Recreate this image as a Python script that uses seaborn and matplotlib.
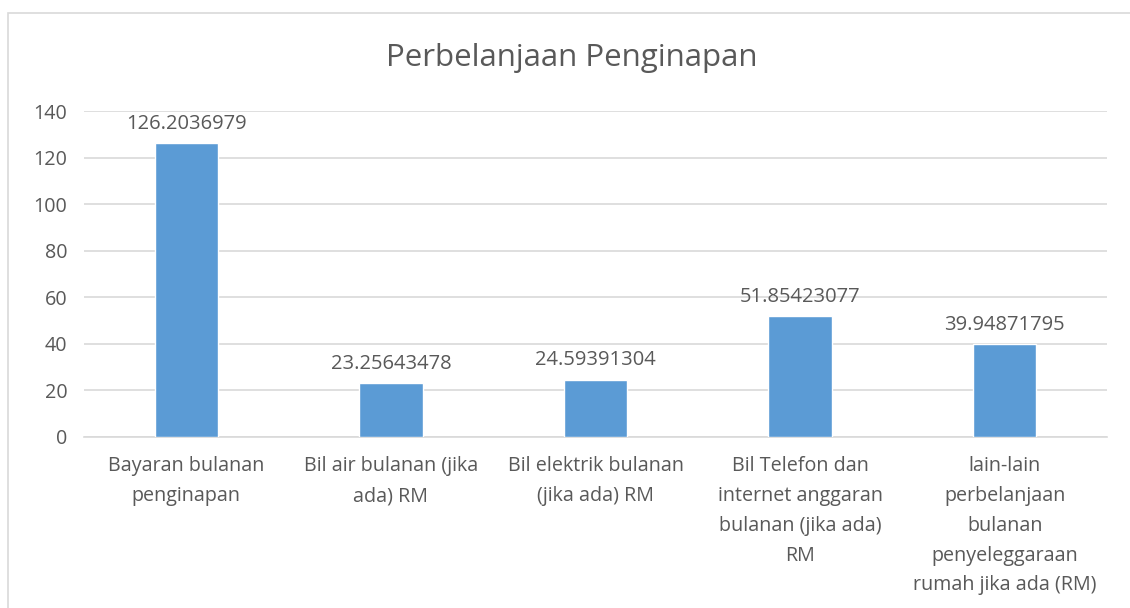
import matplotlib
matplotlib.use("Agg")
import matplotlib.pyplot as plt
import seaborn as sns
import pandas as pd
from matplotlib.patches import Rectangle

# data
categories = [
    "Bayaran bulanan\npenginapan",
    "Bil air bulanan (jika\nada) RM",
    "Bil elektrik bulanan\n(jika ada) RM",
    "Bil Telefon dan\ninternet anggaran\nbulanan (jika ada)\nRM",
    "lain-lain\nperbelanjaan\nbulanan\npenyeleggaraan\nrumah jika ada (RM)",
]
values = [126.2036979, 23.25643478, 24.59391304, 51.85423077, 39.94871795]
value_labels = ["126.2036979", "23.25643478", "24.59391304", "51.85423077", "39.94871795"]
y_ticks = [0, 20, 40, 60, 80, 100, 120, 140]

sns.set_theme(style="white")
plt.rcParams['font.family'] = ['Open Sans', 'DejaVu Sans']

text_col = "#595959"
bar_col = "#5B9BD5"
grid_col = "#D9D9D9"

df = pd.DataFrame({"cat": categories, "val": values})

fig = plt.figure(figsize=(11.3, 6.08), dpi=100)
ax = fig.add_axes([84 / 1130, 1 - 437 / 608, (1107 - 84) / 1130, (437 - 111) / 608])

sns.barplot(data=df, x="cat", y="val", color=bar_col, width=0.31, saturation=1, ax=ax, zorder=3)

ax.set_ylim(0, 140)
ax.set_yticks(y_ticks)
ax.set_xlim(-0.5, 4.5)
ax.yaxis.grid(True, color=grid_col, linewidth=1.2, zorder=0)
ax.set_axisbelow(True)
for s in ["top", "right", "left"]:
    ax.spines[s].set_visible(False)
ax.spines["bottom"].set_color(grid_col)
ax.spines["bottom"].set_linewidth(1.2)
ax.set_xlabel("")
ax.set_ylabel("")
ax.tick_params(axis="both", length=0, colors=text_col, labelsize=14.2)
ax.tick_params(axis="x", pad=14)
ax.tick_params(axis="y", pad=12)
for lbl in ax.get_xticklabels():
    lbl.set_linespacing(1.65)

for i, (v, t) in enumerate(zip(values, value_labels)):
    ax.text(i, v + 4, t, ha="center", va="bottom", color=text_col, fontsize=14.5)

fig.text(572 / 1130, 1 - 58 / 608, "Perbelanjaan Penginapan", ha="center", va="center",
         color=text_col, fontsize=22.5)

# light chart border (cropped at right and bottom)
fig.patches.append(Rectangle((8 / 1130, -0.1), 1.2, 1 - 13 / 608 + 0.1, transform=fig.transFigure,
                             fill=False, edgecolor=grid_col, linewidth=1.2))

fig.savefig("out.png", dpi=100, facecolor="white")
